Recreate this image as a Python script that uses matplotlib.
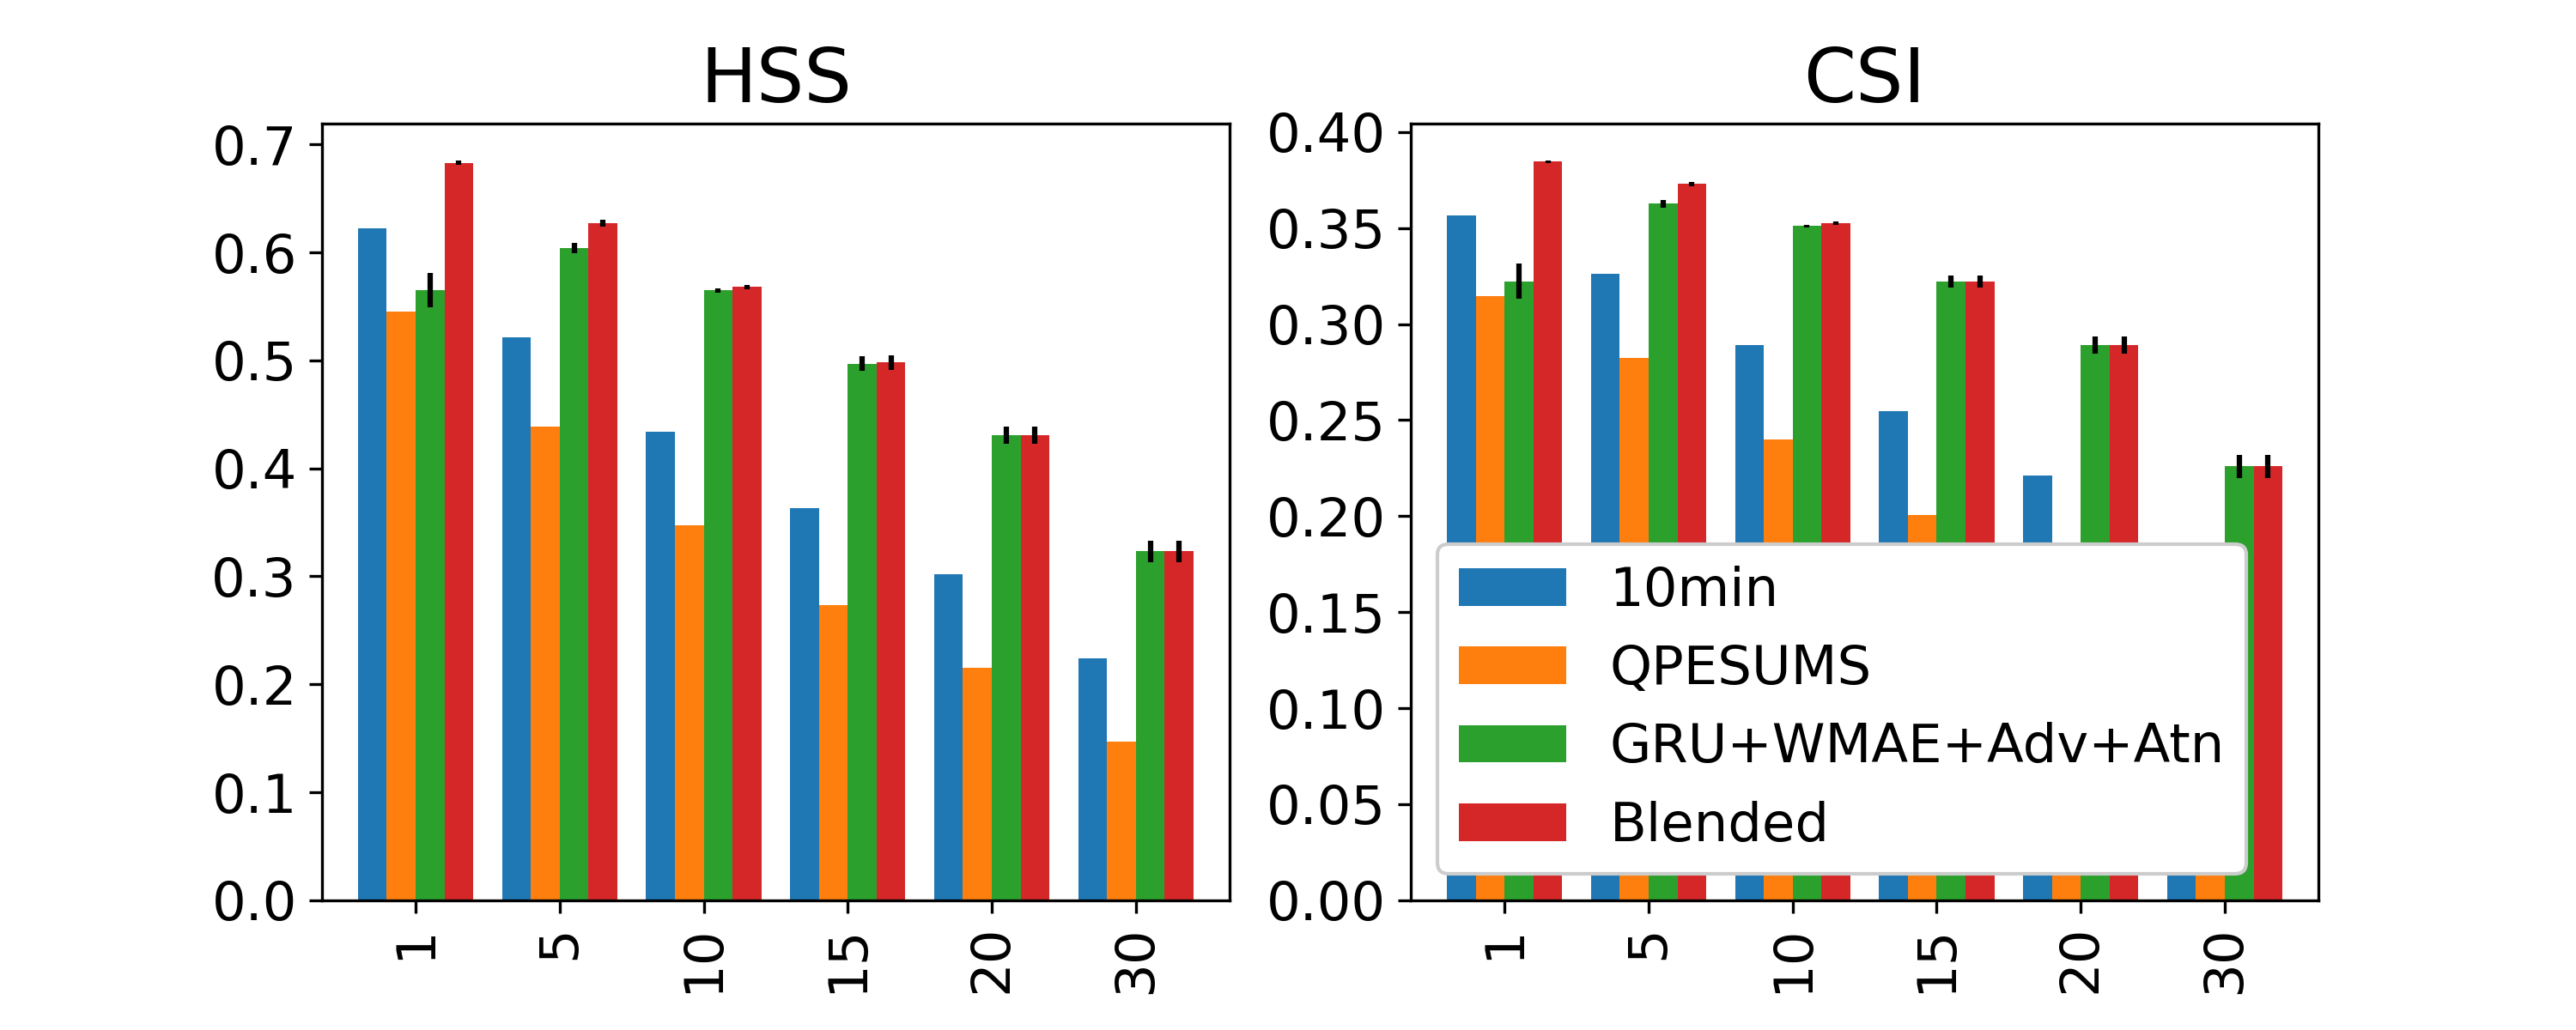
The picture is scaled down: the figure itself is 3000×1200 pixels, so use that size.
import numpy as np
import matplotlib
matplotlib.use("Agg")
import matplotlib.pyplot as plt
from matplotlib.ticker import MultipleLocator, FormatStrFormatter

categories = ["1", "5", "10", "15", "20", "30"]
series_names = ["10min", "QPESUMS", "GRU+WMAE+Adv+Atn", "Blended"]

hss_10min = [0.622, 0.521, 0.434, 0.363, 0.302, 0.224]
hss_qpesums = [0.545, 0.439, 0.347, 0.273, 0.215, 0.147]
hss_gru = [0.565, 0.604, 0.565, 0.497, 0.431, 0.323]
hss_blended = [0.683, 0.627, 0.568, 0.498, 0.431, 0.323]
hss_gru_err = [0.016, 0.0045, 0.002, 0.0065, 0.008, 0.010]
hss_blended_err = [0.002, 0.003, 0.002, 0.0065, 0.008, 0.010]

csi_10min = [0.3567, 0.3261, 0.2892, 0.2546, 0.221, 0.164]
csi_qpesums = [0.3147, 0.2822, 0.240, 0.2004, 0.158, 0.108]
csi_gru = [0.3223, 0.3626, 0.351, 0.322, 0.2892, 0.2259]
csi_blended = [0.3845, 0.3729, 0.3526, 0.322, 0.2892, 0.2259]
csi_gru_err = [0.0093, 0.002, 0.0006, 0.0032, 0.0045, 0.006]
csi_blended_err = [0.0006, 0.001, 0.001, 0.0032, 0.0045, 0.006]

colors = ["#1f77b4", "#ff7f0e", "#2ca02c", "#d62728"]

fig, axes = plt.subplots(1, 2, figsize=(10, 4), dpi=300)
fig.subplots_adjust(left=0.125, right=0.9, top=0.88, bottom=0.126, wspace=0.2)

x = np.arange(len(categories))
width = 0.2
offsets = [-1.5 * width, -0.5 * width, 0.5 * width, 1.5 * width]

panels = [
    ("HSS", [hss_10min, hss_qpesums, hss_gru, hss_blended],
     [None, None, hss_gru_err, hss_blended_err], 0.1, "%.1f"),
    ("CSI", [csi_10min, csi_qpesums, csi_gru, csi_blended],
     [None, None, csi_gru_err, csi_blended_err], 0.05, "%.2f"),
]

for ax, (title, vals, errs, step, fmt) in zip(axes, panels):
    for i, (v, e) in enumerate(zip(vals, errs)):
        ax.bar(x + offsets[i], v, width, yerr=e, color=colors[i],
               label=series_names[i],
               error_kw=dict(ecolor="black", elinewidth=1.5, capsize=0))
    ax.set_title(title, fontsize=21)
    ax.set_xticks(x)
    ax.set_xticklabels(categories, rotation=90, fontsize=15)
    ax.yaxis.set_major_locator(MultipleLocator(step))
    ax.yaxis.set_major_formatter(FormatStrFormatter(fmt))
    ax.tick_params(axis="y", labelsize=15)
    ax.set_xlim(-0.65, 5.65)

axes[1].legend(loc="lower left", fontsize=15, framealpha=1.0)

fig.savefig("out.png", dpi=300)
